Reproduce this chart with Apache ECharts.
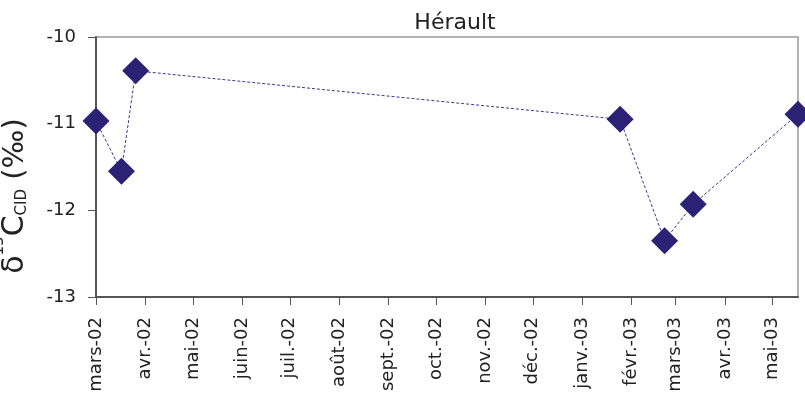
<!DOCTYPE html>
<html>
<head>
<meta charset="utf-8">
<script src="https://cdn.jsdelivr.net/npm/echarts@6/dist/echarts.min.js"></script>
<style>
  html, body { margin: 0; padding: 0; background: #fff; }
  #chart { width: 805px; height: 400px; }
</style>
</head>
<body>
<div id="chart"></div>
<script>
// Sampling dates and δ13C values of dissolved inorganic carbon (‰)
const sampleDates = ['2002-03-01', '2002-03-17', '2002-03-26', '2003-01-25', '2003-02-22', '2003-03-12', '2003-05-17'];
const d13cValues = [-10.97, -11.55, -10.39, -10.95, -12.35, -11.93, -10.89];

// French month abbreviations for the time axis labels
const monthLabels = ['janv.', 'févr.', 'mars', 'avr.', 'mai', 'juin', 'juil.', 'août', 'sept.', 'oct.', 'nov.', 'déc.'];
const yTicks = { min: -13, max: -10, interval: 1 };

const chart = echarts.init(document.getElementById('chart'), null, { renderer: 'canvas' });
const font = '"DejaVu Sans", "Liberation Sans", Arial, sans-serif';
const markColor = '#2c2275';

chart.setOption({
  animation: false,
  title: {
    text: 'Hérault',
    left: 450,
    textAlign: 'center',
    top: 7,
    textStyle: { fontFamily: font, fontSize: 22, fontWeight: 'normal', color: '#222' }
  },
  grid: {
    left: 96, right: 7, top: 37, bottom: 103,
    containLabel: false,
    outerBoundsMode: 'none',
    show: true, borderColor: '#9a9a9a', borderWidth: 1.5, backgroundColor: 'transparent'
  },
  xAxis: {
    type: 'time',
    min: '2002-03-01',
    max: sampleDates[sampleDates.length - 1],
    minInterval: 28 * 24 * 3600 * 1000,
    maxInterval: 31 * 24 * 3600 * 1000,
    splitLine: { show: false },
    axisLine: { lineStyle: { color: '#555', width: 2 } },
    axisTick: { show: true, length: 8, lineStyle: { color: '#555', width: 1 } },
    axisLabel: {
      rotate: 90,
      margin: 20,
      fontFamily: font,
      fontSize: 18,
      color: '#222',
      showMaxLabel: false,
      formatter: function (value) {
        const d = new Date(value);
        return monthLabels[d.getMonth()] + '-' + String(d.getFullYear()).slice(2);
      }
    }
  },
  yAxis: {
    type: 'value',
    min: yTicks.min,
    max: yTicks.max,
    interval: yTicks.interval,
    splitLine: { show: false },
    axisLine: { show: true, lineStyle: { color: '#555', width: 2 } },
    axisTick: { show: true, length: 8, lineStyle: { color: '#555', width: 1 } },
    axisLabel: { fontFamily: font, fontSize: 18, color: '#222', margin: 20 },
    name: '{d|δ}{sup|13}{c|C}{sub|CID}{p| (‰)}',
    nameLocation: 'middle',
    nameRotate: 90,
    nameGap: 66,
    nameTextStyle: {
      fontFamily: font,
      color: '#222',
      padding: [0, 58, 0, 0],
      rich: {
        d: { fontFamily: font, fontSize: 30, color: '#222', verticalAlign: 'bottom', lineHeight: 38 },
        sup: { fontFamily: font, fontSize: 15, color: '#222', verticalAlign: 'top', lineHeight: 38, padding: [0, 0, 16, 0] },
        c: { fontFamily: font, fontSize: 30, color: '#222', verticalAlign: 'bottom', lineHeight: 38 },
        sub: { fontFamily: font, fontSize: 15, color: '#222', verticalAlign: 'bottom', lineHeight: 38 },
        p: { fontFamily: font, fontSize: 29, color: '#222', verticalAlign: 'bottom', lineHeight: 38 }
      }
    }
  },
  series: [{
    type: 'line',
    data: sampleDates.map((d, i) => [d, d13cValues[i]]),
    symbol: 'diamond',
    symbolSize: 27,
    clip: false,
    itemStyle: { color: markColor },
    lineStyle: { color: '#3b3688', width: 1, type: [3, 2] }
  }]
});
</script>
</body>
</html>
